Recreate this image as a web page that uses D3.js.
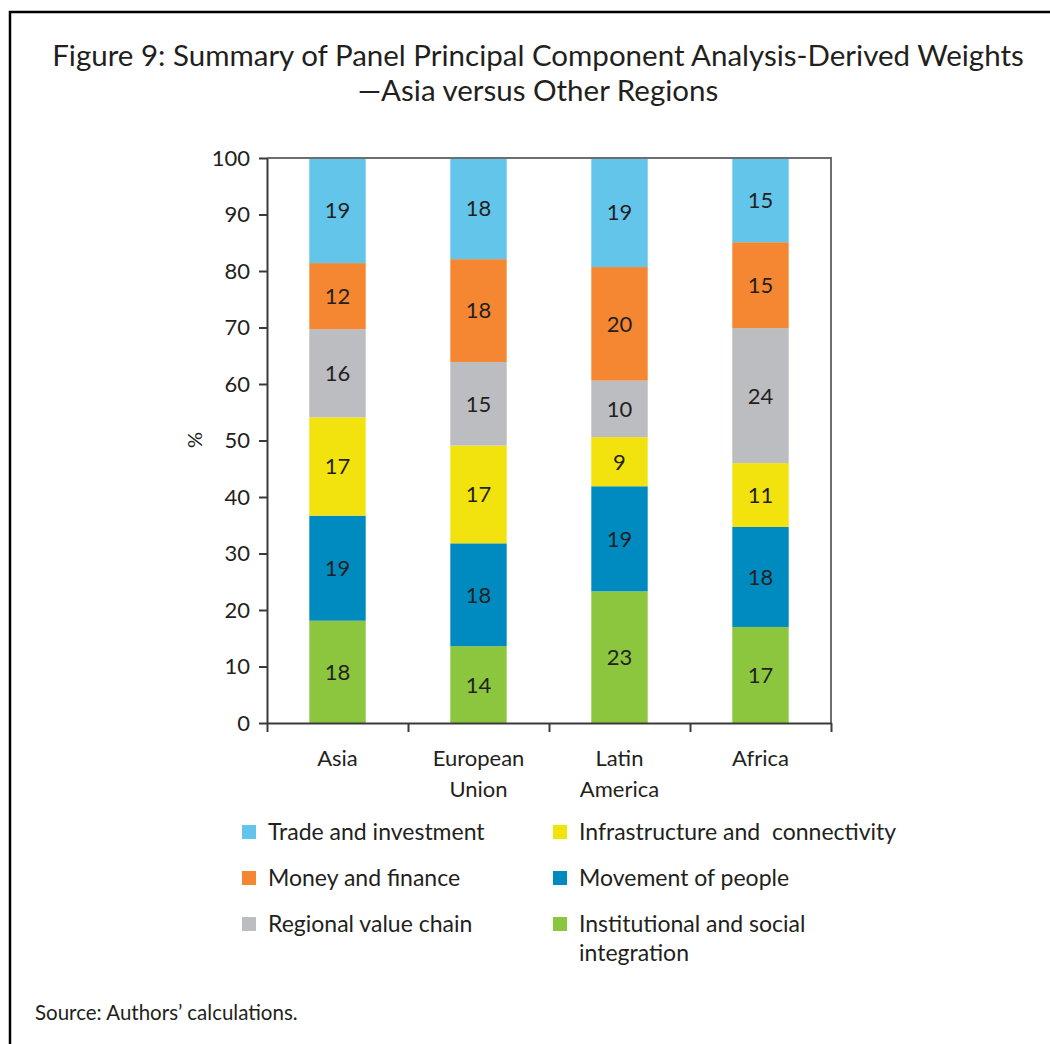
<html>
<head>
<meta charset="utf-8">
<title>Figure 9</title>
<style>
  body { margin: 0; background: #fff; }
  text { font-family: Lato, "Open Sans", sans-serif; fill: #231f20; }
</style>
</head>
<body>
<div id="chart"></div>
<script src="https://cdn.jsdelivr.net/npm/d3@7"></script>
<script>
(function(){
  "use strict";

  var regions = ["Asia", "European Union", "Latin America", "Africa"];
  var regionLines = [["Asia"], ["European", "Union"], ["Latin", "America"], ["Africa"]];

  // stacked bottom to top
  var institutional = [18.1, 13.6, 23.3, 17.0];
  var movement      = [18.6, 18.2, 18.6, 17.7];
  var infrastructure= [17.4, 17.3,  8.7, 11.3];
  var valueChain    = [15.6, 14.8, 10.0, 23.9];
  var money         = [11.7, 18.2, 20.1, 15.2];
  var trade         = [18.6, 17.9, 19.3, 14.9];

  var yTicks = [0, 10, 20, 30, 40, 50, 60, 70, 80, 90, 100];

  var series = [
    { name: "Institutional and social integration", values: institutional, color: "#8cc63f" },
    { name: "Movement of people", values: movement, color: "#008bc0" },
    { name: "Infrastructure and  connectivity", values: infrastructure, color: "#f2e30f" },
    { name: "Regional value chain", values: valueChain, color: "#bcbdc0" },
    { name: "Money and finance", values: money, color: "#f58733" },
    { name: "Trade and investment", values: trade, color: "#63c5ea" }
  ];

  var W = 1050, H = 1044;
  var left = 267, right = 831, top = 158, bottom = 723;

  var svg = d3.select("#chart").append("svg")
    .attr("width", W)
    .attr("height", H);

  // frame
  svg.append("path")
    .attr("d", "M10," + H + "V12H" + W)
    .attr("fill", "none")
    .attr("stroke", "#000")
    .attr("stroke-width", 2.5);

  // title
  svg.append("text")
    .attr("x", 538).attr("y", 66)
    .attr("text-anchor", "middle")
    .style("font-size", "29.5px")
    .text("Figure 9: Summary of Panel Principal Component Analysis-Derived Weights");
  svg.append("text")
    .attr("x", 538).attr("y", 101)
    .attr("text-anchor", "middle")
    .style("font-size", "29.5px")
    .text("\u2014Asia versus Other Regions");

  var x = d3.scaleBand()
    .domain(regions)
    .range([left, right])
    .paddingInner(0.6)
    .paddingOuter(0.3);

  var xb = d3.scaleLinear().domain([0, regions.length]).range([left, right]);

  var y = d3.scaleLinear().domain([0, 100]).range([bottom, top]);

  // stack
  var rows = regions.map(function(r, i){
    var o = { region: r };
    series.forEach(function(s){ o[s.name] = s.values[i]; });
    return o;
  });
  var stack = d3.stack().keys(series.map(function(s){ return s.name; }));
  var layers = stack(rows);

  var g = svg.append("g");
  layers.forEach(function(layer, li){
    var s = series[li];
    var lg = g.append("g");
    lg.selectAll("rect")
      .data(layer)
      .enter().append("rect")
      .attr("x", function(d){ return x(d.data.region); })
      .attr("width", x.bandwidth())
      .attr("y", function(d){ return y(d[1]); })
      .attr("height", function(d){ return y(d[0]) - y(d[1]); })
      .attr("fill", s.color);
    lg.selectAll("text")
      .data(layer)
      .enter().append("text")
      .attr("x", function(d){ return x(d.data.region) + x.bandwidth() / 2; })
      .attr("y", function(d){ return (y(d[0]) + y(d[1])) / 2; })
      .attr("dy", "0.36em")
      .attr("text-anchor", "middle")
      .style("font-size", "22px")
      .text(function(d){ return Math.round(d.data[s.name]); });
  });

  // top and right border
  svg.append("path")
    .attr("d", "M" + left + "," + top + "H" + right + "V" + bottom)
    .attr("fill", "none")
    .attr("stroke", "#6d6e71")
    .attr("stroke-width", 2);

  // y axis
  var yAxis = svg.append("g")
    .attr("transform", "translate(" + left + ",0)")
    .call(d3.axisLeft(y).tickValues(yTicks).tickSize(8).tickSizeOuter(0).tickPadding(9));
  yAxis.selectAll("path, line").attr("stroke", "#3a3a3a").attr("stroke-width", 2);
  yAxis.selectAll("text")
    .style("font-size", "22px")
    .style("font-family", "Lato, sans-serif")
    .attr("fill", "#231f20");

  // x axis with ticks on category boundaries
  var xAxis = svg.append("g")
    .attr("transform", "translate(0," + bottom + ")")
    .call(d3.axisBottom(xb).ticks(regions.length).tickSize(9).tickSizeOuter(0).tickFormat(""));
  xAxis.selectAll("path, line").attr("stroke", "#3a3a3a").attr("stroke-width", 2);

  // category labels
  regionLines.forEach(function(lines, i){
    var t = svg.append("text")
      .attr("x", x(regions[i]) + x.bandwidth() / 2)
      .attr("y", 766)
      .attr("text-anchor", "middle")
      .style("font-size", "22px");
    lines.forEach(function(l, j){
      t.append("tspan")
        .attr("x", x(regions[i]) + x.bandwidth() / 2)
        .attr("dy", j === 0 ? 0 : 31)
        .text(l);
    });
  });

  // y label
  svg.append("text")
    .attr("transform", "translate(202,440) rotate(-90)")
    .attr("text-anchor", "middle")
    .style("font-size", "20px")
    .text("%");

  // legend
  var legendOrder = [5, 2, 4, 1, 3, 0];
  legendOrder.forEach(function(si, k){
    var s = series[si];
    var col = k % 2, row = Math.floor(k / 2);
    var lx = col === 0 ? 242 : 553;
    var ly = 832 + row * 46;
    svg.append("rect")
      .attr("x", lx).attr("y", ly - 7)
      .attr("width", 14).attr("height", 14)
      .attr("fill", s.color);
    var t = svg.append("text")
      .attr("x", lx + 26).attr("y", ly)
      .style("font-size", "23px");
    var parts = si === 0 ? ["Institutional and social", "integration"] : [s.name];
    parts.forEach(function(p, j){
      t.append("tspan")
        .attr("x", lx + 26)
        .attr("dy", j === 0 ? "0.36em" : 29)
        .style("white-space", "pre")
        .text(p);
    });
  });

  // source
  svg.append("text")
    .attr("x", 35).attr("y", 1020)
    .style("font-size", "20.5px")
    .text("Source: Authors\u2019 calculations.");

})();
</script>
</body>
</html>
